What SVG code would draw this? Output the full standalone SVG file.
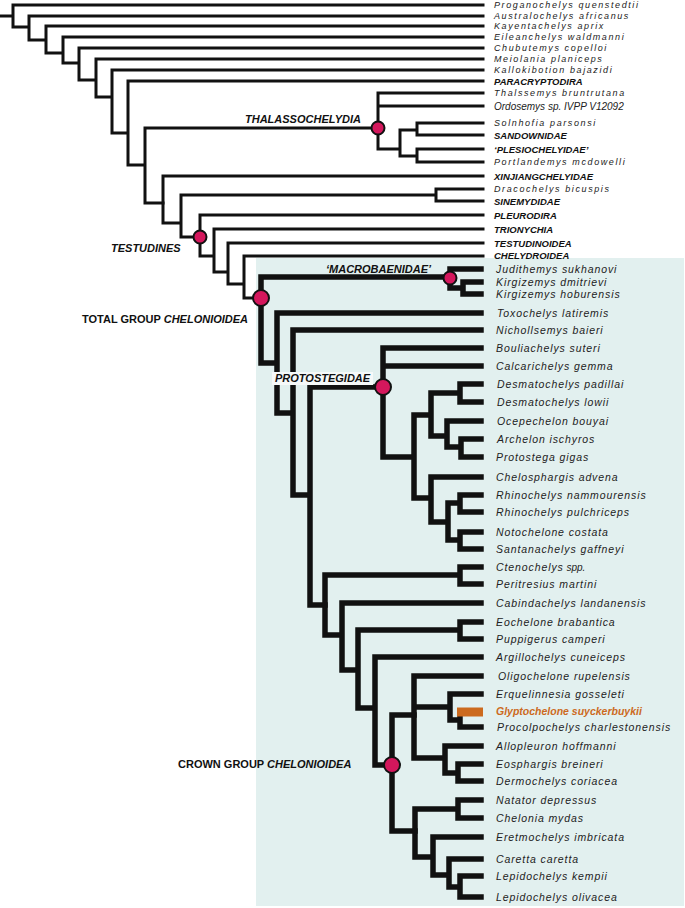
<svg xmlns="http://www.w3.org/2000/svg" width="685" height="908" viewBox="0 0 685 908">
<style>
.ln{fill:none;stroke:#111;stroke-width:3;stroke-linecap:square;stroke-linejoin:miter}
.tk{stroke-width:5.5}
.dot{fill:#d4175c;stroke:#111;stroke-width:2}
text{font-family:"Liberation Sans",Arial,sans-serif;fill:#222}
.sp{font-style:italic;font-size:9px;letter-spacing:1.6px}
.sb{font-style:italic;font-size:10.5px;letter-spacing:0.9px}
.cap{font-style:italic;font-weight:bold;font-size:9.5px;fill:#111}
.cl{font-weight:bold;font-size:11px;fill:#111}
.it{font-style:italic}
</style>
<rect id="box" x="256" y="258" width="428" height="648" fill="#e2f0ef"/>
<g id="connectors">
<path class="ln" d="M0 16H13M483 5H13V27H29M483 16H29V40H46M483 26H46V53H63M483 37H63V63H79M483 48H79V80H96M483 59H96V97H112M483 70H112V133H128M483 81H128V165H145M378 128H145V203H163"/>
<path class="ln" d="M483 93H378V149H400M378 106H483M417 130H400V156H417M483 123H417V135H483M483 149H417V162H483"/>
<path class="ln" d="M483 176H163V223H181M436 195H181V237H200M483 189H436V201H483M483 215H200V256H214M483 229H214V272H228M483 243H228V284H244M483 256H244V298H261"/>
<path class="ln tk" d="M450 277H261V363H277M481 269H450V288H463M481 282H463V294H481M481 313H277V413H293M481 330H293V495H310M383 387H310V605H325"/>
<path class="ln tk" d="M481 348H383V457H414M383 366H481M431 415H414V498H431M460 393H431V436H447M481 384H460V402H481M481 421H447V447H461M481 439H461V457H481M481 477H431V522H448M460 503H448V540H460M481 495H460V512H481M481 532H460V549H481"/>
<path class="ln tk" d="M460 575H325V635H342M481 567H460V584H481M481 603H342V670H358M460 630H358V708H375M481 622H460V639H481M481 657H375V765H392M414 715H392V831H415"/>
<path class="ln tk" d="M481 676H414V758H445M414 707H450M481 694H450V720H460M460 716V727H481M481 746H445V773H458M481 764H458V781H481"/>
<path fill="none" stroke="#cc6a1e" stroke-width="9" d="M457 712H483"/>
<path class="ln tk" d="M458 809H415V857H433M481 800H458V818H481M481 837H433V875H449M481 859H449V887H460M481 876H460V897H481"/>
</g>
<g id="node-thalassochelydia"><circle class="dot" cx="378" cy="128" r="6.5"/><text class="cl it" x="245" y="123">THALASSOCHELYDIA</text></g>
<g id="node-testudines"><circle class="dot" cx="200" cy="237" r="6.5"/><text class="cl it" x="111" y="252">TESTUDINES</text></g>
<g id="node-total"><circle class="dot" cx="261" cy="298" r="8"/><text class="cl" x="82" y="323">TOTAL GROUP <tspan class="it">CHELONIOIDEA</tspan></text></g>
<g id="node-macrobaenidae"><circle class="dot" cx="450" cy="278" r="6.5"/><text class="cl it" x="326" y="273">‘MACROBAENIDAE’</text></g>
<g id="node-protostegidae"><rect x="272" y="372" width="101" height="13" fill="#f6f9f9"/><circle class="dot" cx="383" cy="387" r="8"/><text class="cl it" x="275" y="382">PROTOSTEGIDAE</text></g>
<g id="node-crown"><circle class="dot" cx="392" cy="765" r="8"/><text class="cl" x="178" y="768">CROWN GROUP <tspan class="it">CHELONIOIDEA</tspan></text></g>
<g id="tips-top">
<g id="t1"><text class="sp" x="494" y="8">Proganochelys quenstedtii</text></g>
<g id="t2"><text class="sp" x="494" y="19">Australochelys africanus</text></g>
<g id="t3"><text class="sp" x="494" y="29">Kayentachelys aprix</text></g>
<g id="t4"><text class="sp" x="494" y="40">Eileanchelys waldmanni</text></g>
<g id="t5"><text class="sp" x="494" y="51">Chubutemys copelloi</text></g>
<g id="t6"><text class="sp" x="494" y="62">Meiolania planiceps</text></g>
<g id="t7"><text class="sp" x="494" y="73">Kallokibotion bajazidi</text></g>
<g id="t8"><text class="cap" x="494" y="84.5">PARACRYPTODIRA</text></g>
<g id="t9"><text class="sp" x="494" y="96">Thalssemys bruntrutana</text></g>
<g id="t10"><text class="it" font-size="10" x="494" y="109.5">Ordosemys sp. IVPP V12092</text></g>
<g id="t11"><text class="sp" x="494" y="126">Solnhofia parsonsi</text></g>
<g id="t12"><text class="cap" x="494" y="138.5">SANDOWNIDAE</text></g>
<g id="t13"><text class="cap" x="494" y="152.5">‘PLESIOCHELYIDAE’</text></g>
<g id="t14"><text class="sp" x="494" y="165">Portlandemys mcdowelli</text></g>
<g id="t15"><text class="cap" x="494" y="179.5">XINJIANGCHELYIDAE</text></g>
<g id="t16"><text class="sp" x="494" y="192">Dracochelys bicuspis</text></g>
<g id="t17"><text class="cap" x="494" y="204.5">SINEMYDIDAE</text></g>
<g id="t18"><text class="cap" x="494" y="218.5">PLEURODIRA</text></g>
<g id="t19"><text class="cap" x="494" y="232.5">TRIONYCHIA</text></g>
<g id="t20"><text class="cap" x="494" y="246.5">TESTUDINOIDEA</text></g>
<g id="t21"><text class="cap" x="494" y="259">CHELYDROIDEA</text></g>
</g>
<g id="tips-box">
<g id="t22"><text class="sb" x="496" y="273">Judithemys sukhanovi</text></g>
<g id="t23"><text class="sb" x="496" y="286">Kirgizemys dmitrievi</text></g>
<g id="t24"><text class="sb" x="496" y="298">Kirgizemys hoburensis</text></g>
<g id="t25"><text class="sb" x="497" y="317">Toxochelys latiremis</text></g>
<g id="t26"><text class="sb" x="496" y="334">Nichollsemys baieri</text></g>
<g id="t27"><text class="sb" x="496" y="352">Bouliachelys suteri</text></g>
<g id="t28"><text class="sb" x="496" y="370">Calcarichelys gemma</text></g>
<g id="t29"><text class="sb" x="497" y="388">Desmatochelys padillai</text></g>
<g id="t30"><text class="sb" x="497" y="406">Desmatochelys lowii</text></g>
<g id="t31"><text class="sb" x="497" y="425">Ocepechelon bouyai</text></g>
<g id="t32"><text class="sb" x="497" y="443">Archelon ischyros</text></g>
<g id="t33"><text class="sb" x="496" y="461">Protostega gigas</text></g>
<g id="t34"><text class="sb" x="496" y="481">Chelosphargis advena</text></g>
<g id="t35"><text class="sb" x="496" y="499">Rhinochelys nammourensis</text></g>
<g id="t36"><text class="sb" x="496" y="516">Rhinochelys pulchriceps</text></g>
<g id="t37"><text class="sb" x="496" y="536">Notochelone costata</text></g>
<g id="t38"><text class="sb" x="496" y="553">Santanachelys gaffneyi</text></g>
<g id="t39"><text class="sb" x="496" y="571">Ctenochelys<tspan letter-spacing="0" font-size="10"> spp.</tspan></text></g>
<g id="t40"><text class="sb" x="496" y="588">Peritresius martini</text></g>
<g id="t41"><text class="sb" x="496" y="607">Cabindachelys landanensis</text></g>
<g id="t42"><text class="sb" x="496" y="626">Eochelone brabantica</text></g>
<g id="t43"><text class="sb" x="496" y="643">Puppigerus camperi</text></g>
<g id="t44"><text class="sb" x="496" y="661">Argillochelys cuneiceps</text></g>
<g id="t45"><text class="sb" x="498" y="680">Oligochelone rupelensis</text></g>
<g id="t46"><text class="sb" x="496" y="698">Erquelinnesia gosseleti</text></g>
<g id="t47"><text x="496" y="715" font-size="10.5" font-style="italic" font-weight="bold" fill="#cc6a1e" style="fill:#cc6a1e">Glyptochelone suyckerbuykii</text></g>
<g id="t48"><text class="sb" x="497" y="731">Procolpochelys charlestonensis</text></g>
<g id="t49"><text class="sb" x="496" y="750">Allopleuron hoffmanni</text></g>
<g id="t50"><text class="sb" x="496" y="768">Eosphargis breineri</text></g>
<g id="t51"><text class="sb" x="496" y="785">Dermochelys coriacea</text></g>
<g id="t52"><text class="sb" x="496" y="804">Natator depressus</text></g>
<g id="t53"><text class="sb" x="496" y="822">Chelonia mydas</text></g>
<g id="t54"><text class="sb" x="496" y="841">Eretmochelys imbricata</text></g>
<g id="t55"><text class="sb" x="496" y="863">Caretta caretta</text></g>
<g id="t56"><text class="sb" x="496" y="880">Lepidochelys kempii</text></g>
<g id="t57"><text class="sb" x="496" y="901">Lepidochelys olivacea</text></g>
</g>
</svg>
